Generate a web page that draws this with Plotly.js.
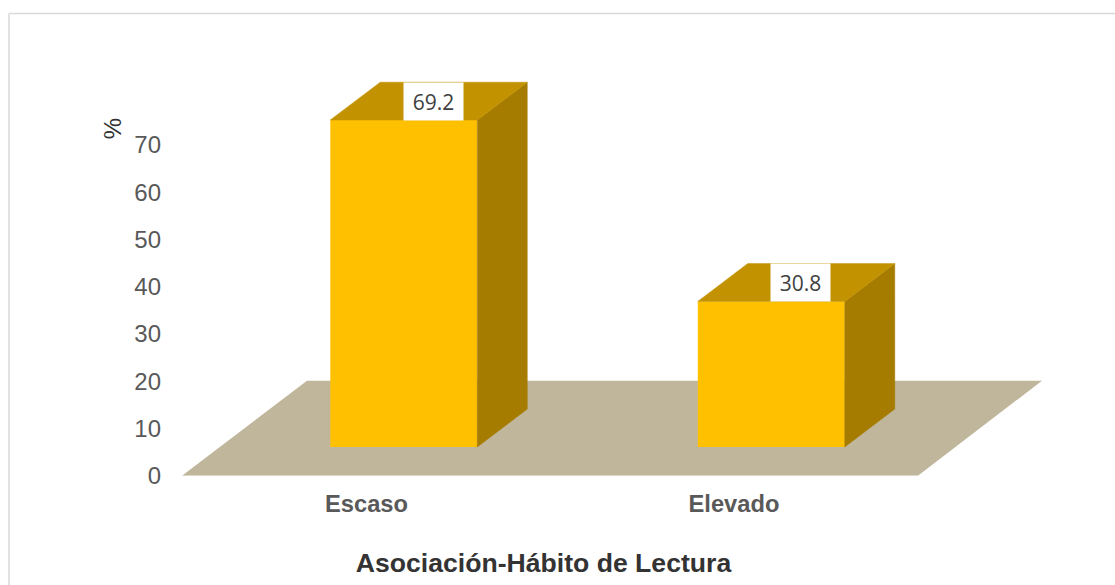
<!DOCTYPE html>
<html>
<head>
<meta charset="utf-8">
<script src="https://cdn.plot.ly/plotly-3.0.1.min.js"></script>
<style>html,body{margin:0;padding:0;background:#fff}#chart{width:1115px;height:585px}</style>
</head>
<body>
<div id="chart"></div>
<script>
// Data
var categories = ["Escaso", "Elevado"];
var values = [69.2, 30.8];
var labels = ["69.2", "30.8"];
var yTicks = [0, 10, 20, 30, 40, 50, 60, 70];
var titleText = "Asociación-Hábito de Lectura";
var yTitle = "%";

// Pseudo-3D geometry, in axis units
var barBase = 6.1, barWidth = 0.4, depthX = 0.136, depthY = 8;
var tickShift = -0.1015;
var floorFront = [-0.6035, 1.399], floorBack = [-0.2634, 1.7366], floorDepth = 20.1;

var idx = categories.map(function (_, i) { return i; });
var traces = [{
  type: "bar", x: idx, y: values, base: values.map(function () { return barBase; }),
  width: barWidth, marker: { color: "#FFC000", line: { width: 0 } }, hoverinfo: "skip"
}];

idx.forEach(function (i) {
  var l = i - barWidth / 2, r = i + barWidth / 2, b = barBase, t = barBase + values[i];
  traces.push({
    type: "scatter", mode: "lines", fill: "toself", fillcolor: "#A67C00",
    line: { color: "#A67C00", width: 0.5 }, hoverinfo: "skip",
    x: [r, r + depthX, r + depthX, r, r], y: [b, b + depthY, t + depthY, t, b]
  });
  traces.push({
    type: "scatter", mode: "lines", fill: "toself", fillcolor: "#C29200",
    line: { color: "#C29200", width: 0.5 }, hoverinfo: "skip",
    x: [l, r, r + depthX, l + depthX, l], y: [t, t, t + depthY, t + depthY, t]
  });
});

var annotations = idx.map(function (i) {
  return {
    x: i + depthX * 0.59, y: barBase + values[i] + depthY / 2, xref: "x", yref: "y",
    text: labels[i], showarrow: false, bgcolor: "#FFFFFF", width: 57, height: 35,
    xanchor: "center", yanchor: "middle", valign: "middle", align: "center",
    font: { family: "Open Sans, sans-serif", size: 21, color: "#404040" }
  };
});
annotations.push({
  x: 112.3 / 1115, y: 1 - 129 / 585, xref: "paper", yref: "paper", text: yTitle,
  showarrow: false, textangle: -90, xanchor: "center", yanchor: "middle",
  font: { family: "Liberation Sans, Arial, sans-serif", size: 24, color: "#333333" }
});

var layout = {
  width: 1115, height: 585, margin: { l: 0, r: 0, t: 0, b: 0, pad: 0 },
  paper_bgcolor: "#FFFFFF", plot_bgcolor: "rgba(0,0,0,0)", showlegend: false,
  title: {
    text: "<b>" + titleText + "</b>", x: 543.5 / 1115, y: 1 - 563 / 585,
    xref: "paper", yref: "paper", xanchor: "center", yanchor: "middle",
    font: { family: "Liberation Sans, Arial, sans-serif", size: 26.6, color: "#333333" }
  },
  xaxis: {
    domain: [182 / 1115, 1042 / 1115], range: [floorFront[0], floorBack[1]],
    tickmode: "array", tickvals: idx.map(function (i) { return i + tickShift; }),
    ticktext: categories.map(function (c) { return "<b>" + c + "</b>"; }),
    tickfont: { family: "Liberation Sans, Arial, sans-serif", size: 23.7, color: "#595959" },
    showgrid: false, zeroline: false, showline: false, ticks: "", ticklabelstandoff: 12, fixedrange: true
  },
  yaxis: {
    domain: [(585 - 475.7) / 585, (585 - 60) / 585], range: [0, 88],
    tickmode: "array", tickvals: yTicks,
    tickfont: { family: "Liberation Sans, Arial, sans-serif", size: 24, color: "#595959" },
    showgrid: false, zeroline: false, showline: false, ticks: "", ticklabelstandoff: 20, fixedrange: true
  },
  shapes: [
    { type: "path", xref: "x", yref: "y", layer: "below", line: { width: 0 }, fillcolor: "#BFB69B",
      path: "M" + floorFront[0] + ",0 L" + floorFront[1] + ",0 L" + floorBack[1] + "," + floorDepth +
            " L" + floorBack[0] + "," + floorDepth + " Z" },
    { type: "line", xref: "paper", yref: "paper", x0: 9 / 1115, x1: 1, y0: 1 - 13.5 / 585, y1: 1 - 13.5 / 585,
      line: { color: "#D9D9D9", width: 1.5 } },
    { type: "line", xref: "paper", yref: "paper", x0: 9 / 1115, x1: 9 / 1115, y0: 1 - 13.5 / 585, y1: 0,
      line: { color: "#D9D9D9", width: 1.5 } }
  ],
  annotations: annotations
};

Plotly.newPlot("chart", traces, layout, { displayModeBar: false, staticPlot: true });
</script>
</body>
</html>
